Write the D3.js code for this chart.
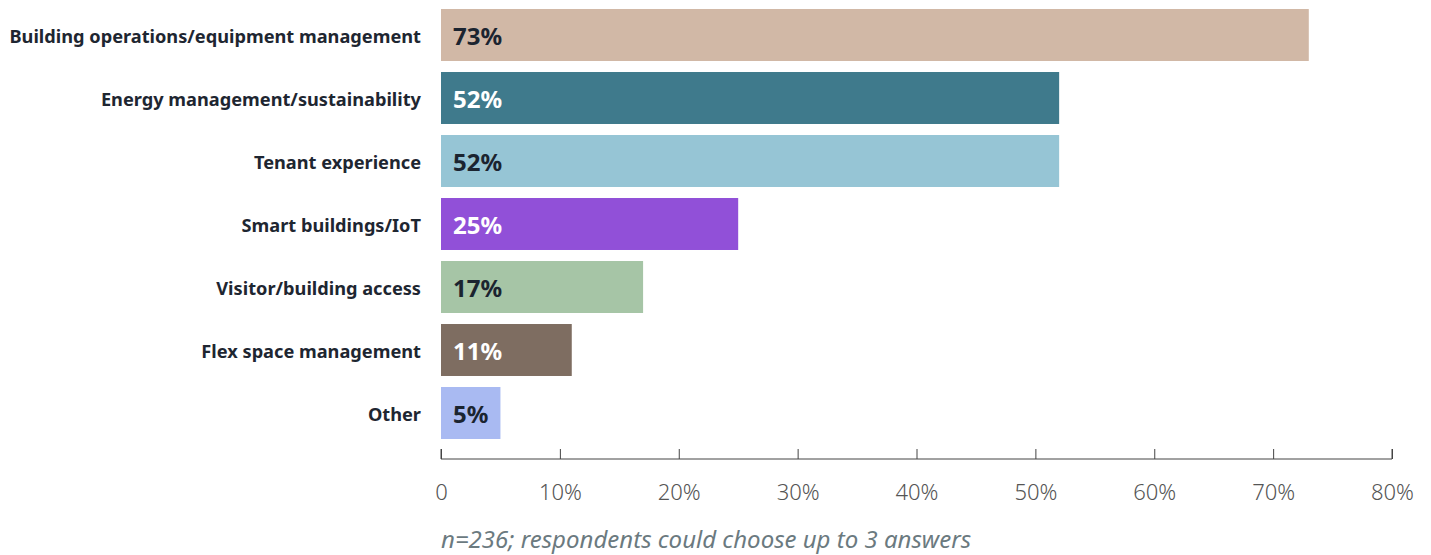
<!DOCTYPE html>
<html>
<head>
<meta charset="utf-8">
<script src="https://cdn.jsdelivr.net/npm/d3@7"></script>
<style>
  body { margin: 0; background: #fff; }
  svg text { font-family: "Source Sans Pro", "Noto Sans", sans-serif; }
</style>
</head>
<body>
<div id="wrapper"></div>
<script>
// data
const categories = [
  "Building operations/equipment management",
  "Energy management/sustainability",
  "Tenant experience",
  "Smart buildings/IoT",
  "Visitor/building access",
  "Flex space management",
  "Other"
];
const values = [73, 52, 52, 25, 17, 11, 5];
const barColors = ["#d1b8a6", "#3f7a8c", "#96c5d5", "#9150d8", "#a6c5a6", "#7e6d61", "#a9baf2"];
const labelColors = ["#1b2430", "#ffffff", "#1b2430", "#ffffff", "#1b2430", "#ffffff", "#1b2430"];
const xTicks = [0, 10, 20, 30, 40, 50, 60, 70, 80];
const footnote = "n=236; respondents could choose up to 3 answers";

const width = 1431, height = 555;

const svg = d3.select("#wrapper").append("svg")
  .attr("width", width)
  .attr("height", height);

// scales
const x = d3.scaleLinear().domain([0, 80]).range([441, 1392]);
const y = d3.scaleBand().domain(categories).range([3.5, 444.5])
  .paddingInner(0.175).paddingOuter(0.0875);

// bars
svg.selectAll(".bar")
  .data(categories)
  .enter().append("rect")
  .attr("class", "bar")
  .attr("x", x(0))
  .attr("y", d => y(d))
  .attr("width", (d, i) => x(values[i]) - x(0))
  .attr("height", y.bandwidth())
  .attr("fill", (d, i) => barColors[i]);

// value labels
svg.selectAll(".val")
  .data(categories)
  .enter().append("text")
  .attr("class", "val")
  .attr("x", x(0) + 12)
  .attr("y", d => y(d) + y.bandwidth() / 2 + 1.5)
  .attr("dy", "0.35em")
  .attr("fill", (d, i) => labelColors[i])
  .style("font-size", "24px")
  .style("font-weight", 700)
  .text((d, i) => values[i] + "%");

// category labels
svg.selectAll(".cat")
  .data(categories)
  .enter().append("text")
  .attr("class", "cat")
  .attr("x", 421)
  .attr("y", d => y(d) + y.bandwidth() / 2 + 1.5)
  .attr("dy", "0.35em")
  .attr("text-anchor", "end")
  .attr("fill", "#1e2631")
  .style("font-size", "18.2px")
  .style("font-weight", 700)
  .text(d => d);

// x axis
const axis = svg.append("g")
  .attr("transform", "translate(0, 459)")
  .call(d3.axisTop(x).tickValues(xTicks).tickSize(10).tickFormat(d => d === 0 ? "0" : d + "%"));
axis.select(".domain").attr("stroke", "#444").attr("d", `M${x(0)},-10V0H${x(80)}V-10`);
axis.selectAll(".tick line").attr("stroke", "#444");
axis.selectAll(".tick text")
  .attr("y", 33)
  .attr("dy", "0.35em")
  .attr("fill", "#555")
  .style("font-size", "22px")
  .style("font-weight", 300);

// footnote
svg.append("text")
  .attr("x", 441)
  .attr("y", 548)
  .attr("fill", "#6b7a7f")
  .style("font-size", "24px")
  .style("font-style", "italic")
  .text(footnote);
</script>
</body>
</html>
